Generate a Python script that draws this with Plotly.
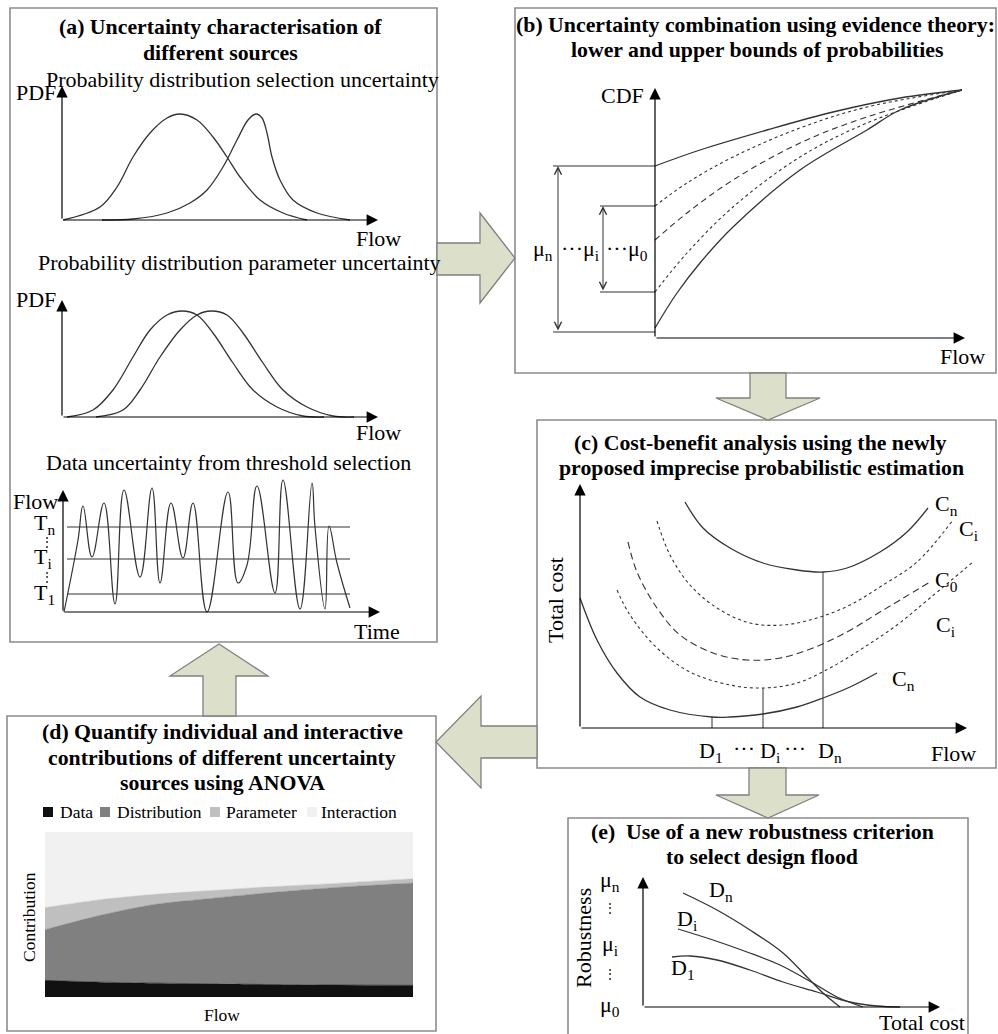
import plotly.graph_objects as go

# ---------------------------------------------------------------------------
# Data (values in each mini-chart's own arbitrary units)
# ---------------------------------------------------------------------------
# (a) distribution selection uncertainty: two candidate PDFs over flow
sel_flow_1 = [1, 38, 55, 71, 88, 105, 118, 135, 151, 165, 178, 198, 221, 245]
sel_pdf_1 = [0, 13, 33, 63, 87, 102, 106, 100, 83, 63, 43, 20, 7, 0]
sel_flow_2 = [40, 71, 105, 128, 145, 161, 175, 186, 194, 200, 205, 210, 218, 231, 255, 288]
sel_pdf_2 = [0, 1, 7, 17, 30, 53, 80, 100, 106, 102, 87, 63, 40, 20, 7, 0]

# (a) distribution parameter uncertainty: same family, shifted parameters
par_flow_1 = [5, 31, 51, 71, 88, 105, 120, 135, 151, 171, 191, 215, 241, 262]
par_pdf_1 = [0, 7, 27, 60, 87, 102, 106, 102, 84, 54, 27, 10, 1, 0]
par_flow_2 = [34, 61, 78, 98, 118, 135, 149, 165, 181, 201, 221, 245, 271, 292]
par_pdf_2 = [0, 7, 27, 60, 87, 102, 106, 102, 84, 54, 27, 10, 1, 0]

# (a) data uncertainty: flow series and candidate thresholds
hydro_time = [1, 15, 20, 29, 41, 52, 61, 77, 89, 97, 108, 120, 130, 144, 165, 175,
              184, 194, 212, 220, 237, 249, 252, 262, 266, 274, 287]
hydro_flow = [0, 72, 106, 55, 109, 8, 122, 35, 124, 29, 109, 54, 109, 0, 120, 29,
              47, 126, 19, 132, 3, 129, 85, 3, 86, 49, 4]
threshold_levels = [85, 53, 18]
threshold_labels = ["T<sub>n</sub>", "T<sub>i</sub>", "T<sub>1</sub>"]
threshold_span = [4, 287]

# (b) CDF bounds from evidence theory
cdf_flow_top = [0, 45, 112, 178, 245, 307]
cdf_top = [172, 188, 208, 226, 240, 248]
cdf_flow_mid = [0, 32, 78, 145, 212, 307]
cdf_upper_dot = [132, 155, 181, 210, 231, 248]
cdf_dash = [98, 125, 158, 195, 221, 248]
cdf_lower_dot = [46, 85, 131, 181, 215, 248]
cdf_flow_bot = [0, 22, 45, 78, 145, 212, 245, 307]
cdf_bot = [10, 45, 75, 111, 168, 208, 228, 248]
mu_n_bounds = [6, 172]
mu_i_bounds = [46, 132]

# (c) total cost curves
cost_flow_up_n = [105, 123, 150, 183, 217, 243, 267, 300, 327, 348]
cost_up_n = [226, 200, 180, 165, 158, 156, 160, 176, 196, 220]
cost_flow_up_i = [77, 90, 110, 137, 170, 203, 237, 270, 303, 337, 373]
cost_up_i = [207, 173, 143, 120, 105, 103, 110, 123, 143, 166, 208]
cost_flow_0 = [48, 57, 77, 100, 133, 167, 200, 233, 267, 300, 350]
cost_0 = [186, 156, 120, 93, 75, 68, 70, 80, 96, 116, 146]
cost_flow_lo_i = [37, 50, 77, 110, 150, 183, 217, 250, 283, 317, 350, 393]
cost_lo_i = [138, 113, 80, 56, 43, 40, 45, 60, 80, 103, 130, 166]
cost_flow_lo_n = [0, 17, 37, 60, 90, 132, 150, 183, 217, 243, 270, 297]
cost_lo_n = [130, 88, 55, 31, 18, 11, 11, 14, 21, 30, 41, 55]
design_flow = [132, 183, 243]
design_cost = [11, 40, 156]

# (d) ANOVA contributions (%)
anova_flow = [0, 1.5, 3, 4.5, 6, 8, 10]
anova_data = [10.1, 9.0, 8.4, 8.0, 7.6, 7.3, 7.1]
anova_distribution = [30.7, 40.5, 47.8, 51.7, 55.4, 59.2, 62.0]
anova_parameter = [13.4, 9.5, 6.0, 4.8, 3.6, 2.5, 2.6]
anova_interaction = [45.8, 41.0, 37.8, 35.5, 33.4, 31.0, 28.3]
anova_names = ["Data", "Distribution", "Parameter", "Interaction"]

# (e) robustness against total cost for candidate design floods
rob_cost_n = [40, 74, 107, 140, 164, 180, 197]
rob_n = [114, 97, 77, 54, 30, 14, 0]
rob_cost_i = [35, 70, 104, 137, 170, 194, 220]
rob_i = [78, 67, 55, 42, 24, 10, 0]
rob_cost_1 = [29, 47, 74, 107, 140, 174, 207, 234, 257]
rob_1 = [50, 51, 47, 37, 25, 15, 5, 1, 0]

# ---------------------------------------------------------------------------
# Styling
# ---------------------------------------------------------------------------
W, H = 998, 1034
SERIF = "Liberation Serif, Times New Roman, serif"
INK = "#000000"
CURVE = "#333333"
FRAME = "#8c8c8c"
ARROW_FILL = "#dcdfca"
ARROW_EDGE = "#808080"
ANOVA_COLORS = ["#111111", "#808080", "#bfbfbf", "#f1f1f1"]
TXT = 22
TITLE = 21.8

fig = go.Figure()


def px(x):
    return x / W


def py(y):
    return 1 - y / H


def sfx(n):
    return "" if n == 1 else str(n)


def panel_axes(n, origin, xr, yr):
    ox, oy = origin
    s = sfx(n)
    fig.update_layout({
        f"xaxis{s}": dict(domain=[px(ox + xr[0]), px(ox + xr[1])], range=list(xr),
                          visible=False, fixedrange=True, anchor=f"y{s}"),
        f"yaxis{s}": dict(domain=[py(oy - yr[0]), py(oy - yr[1])], range=list(yr),
                          visible=False, fixedrange=True, anchor=f"x{s}"),
    })


def axis_arrows(n, xlen, ylen):
    s = sfx(n)
    for x, y in [(xlen, 0), (0, ylen)]:
        fig.add_annotation(x=x, y=y, ax=0, ay=0, xref=f"x{s}", yref=f"y{s}",
                           axref=f"x{s}", ayref=f"y{s}", text="", showarrow=True,
                           arrowhead=2, arrowsize=1.9, arrowwidth=1.2,
                           arrowcolor=INK, standoff=0)


def curve(n, x, y, dash="solid", width=1.3, color=CURVE, shape="spline", smoothing=1.0):
    s = sfx(n)
    line = dict(color=color, width=width, dash=dash, shape=shape)
    if shape == "spline":
        line["smoothing"] = smoothing
    fig.add_trace(go.Scatter(x=x, y=y, mode="lines", line=line, xaxis=f"x{s}",
                             yaxis=f"y{s}", showlegend=False, hoverinfo="skip"))


def label(text, x, y, size=TXT, bold=False, xanchor="center", angle=0):
    if bold:
        text = f"<b>{text}</b>"
    fig.add_annotation(text=text, x=px(x), y=py(y), xref="paper", yref="paper",
                       showarrow=False, xanchor=xanchor, yanchor="middle",
                       textangle=angle, font=dict(family=SERIF, size=size, color=INK))


def frame(x0, y0, x1, y1):
    fig.add_shape(type="rect", xref="paper", yref="paper", x0=px(x0), x1=px(x1),
                  y0=py(y1), y1=py(y0), line=dict(color=FRAME, width=1.6), layer="above")


def block_arrow(points):
    d = "M " + " L ".join(f"{px(x):.5f},{py(y):.5f}" for x, y in points) + " Z"
    fig.add_shape(type="path", path=d, xref="paper", yref="paper", fillcolor=ARROW_FILL,
                  line=dict(color=ARROW_EDGE, width=1.3), layer="above")


# ---------------------------------------------------------------------------
# Panel frames and connecting arrows
# ---------------------------------------------------------------------------
frame(10, 8, 437, 642)      # (a)
frame(515, 8, 996, 373)     # (b)
frame(537, 420, 996, 768)   # (c)
frame(7, 716, 436, 1031)    # (d)
frame(568, 818, 968, 1040)  # (e)

block_arrow([(437, 243), (480, 243), (480, 213), (515, 258), (480, 303), (480, 275), (437, 275)])
block_arrow([(750, 373), (786, 373), (786, 398), (820, 398), (768, 420), (716, 398), (750, 398)])
block_arrow([(749, 768), (786, 768), (786, 795), (819, 795), (768, 818), (716, 795), (749, 795)])
block_arrow([(537, 726), (481, 726), (481, 696), (436, 742), (481, 788), (481, 758), (537, 758)])
block_arrow([(203, 716), (203, 676), (170, 676), (219, 644), (268, 676), (236, 676), (236, 716)])

# ---------------------------------------------------------------------------
# (a) Uncertainty characterisation
# ---------------------------------------------------------------------------
label("(a) Uncertainty characterisation of", 220, 27, size=TITLE, bold=True)
label("different sources", 220, 53, size=TITLE, bold=True)

label("Probability distribution selection uncertainty", 44, 80, xanchor="left")
panel_axes(1, (62, 220), (-2, 320), (-3, 136))
axis_arrows(1, 316, 134)
curve(1, sel_flow_1, sel_pdf_1)
curve(1, sel_flow_2, sel_pdf_2)
label("PDF", 58, 93, xanchor="right")
label("Flow", 378, 238)

label("Probability distribution parameter uncertainty", 36, 262, xanchor="left")
panel_axes(2, (62, 417), (-2, 320), (-3, 119))
axis_arrows(2, 316, 117)
curve(2, par_flow_1, par_pdf_1)
curve(2, par_flow_2, par_pdf_2)
label("PDF", 58, 299, xanchor="right")
label("Flow", 378, 433)

label("Data uncertainty from threshold selection", 44, 462, xanchor="left")
panel_axes(3, (63, 612), (-2, 321), (-6, 136))
axis_arrows(3, 317, 122)
for level in threshold_levels:
    curve(3, threshold_span, [level, level], shape="linear", width=1.2)
curve(3, hydro_time, hydro_flow, smoothing=1.2, width=1.2)
label("Flow", 60, 501, xanchor="right")
label("Time", 377, 631)
for lvl_y, txt in zip([524, 558, 594], threshold_labels):
    label(txt, 32, lvl_y, xanchor="left")
label("\u22ee", 47, 542, size=12)
label("\u22ee", 47, 577, size=12)

# ---------------------------------------------------------------------------
# (b) Evidence theory combination
# ---------------------------------------------------------------------------
label("(b) Uncertainty combination using evidence theory:", 755, 25, size=TITLE, bold=True)
label("lower and upper bounds of probabilities", 757, 50, size=TITLE, bold=True)
panel_axes(4, (655, 338), (-140, 320), (-4, 254))
axis_arrows(4, 310, 250)
curve(4, cdf_flow_top, cdf_top)
curve(4, cdf_flow_mid, cdf_upper_dot, dash="dot", width=1.1)
curve(4, cdf_flow_mid, cdf_dash, dash="6px,4px", width=1.1)
curve(4, cdf_flow_mid, cdf_lower_dot, dash="dot", width=1.1)
curve(4, cdf_flow_bot, cdf_bot)
for bounds, x_start, x_arrow in [(mu_n_bounds, -102, -97), (mu_i_bounds, -55, -52)]:
    for b in bounds:
        curve(4, [x_start, 0], [b, b], shape="linear", width=1.1)
    fig.add_annotation(x=x_arrow, y=bounds[1], ax=x_arrow, ay=bounds[0], xref="x4", yref="y4",
                       axref="x4", ayref="y4", text="", showarrow=True, arrowside="end+start",
                       arrowhead=5, startarrowhead=5, arrowsize=1.4, startarrowsize=1.4,
                       arrowwidth=1.0, arrowcolor=CURVE, standoff=0, startstandoff=0)
label("CDF", 646, 95, xanchor="right")
label("Flow", 962, 356)
label("\u03bc<sub>n</sub>", 543, 250)
label("\u00b7\u00b7\u00b7\u03bc<sub>i</sub>", 580, 250)
label("\u00b7\u00b7\u00b7\u03bc<sub>0</sub>", 627, 250)

# ---------------------------------------------------------------------------
# (c) Cost-benefit analysis
# ---------------------------------------------------------------------------
label("(c) Cost-benefit analysis using the newly", 760, 443, size=TITLE, bold=True)
label("proposed imprecise probabilistic estimation", 761, 468, size=TITLE, bold=True)
panel_axes(5, (580, 728), (-2, 400), (-3, 246))
axis_arrows(5, 387, 244)
curve(5, cost_flow_up_n, cost_up_n)
curve(5, cost_flow_up_i, cost_up_i, dash="dot", width=1.1)
curve(5, cost_flow_0, cost_0, dash="7px,4px", width=1.1)
curve(5, cost_flow_lo_i, cost_lo_i, dash="dot", width=1.1)
curve(5, cost_flow_lo_n, cost_lo_n)
for fx, cy in zip(design_flow, design_cost):
    curve(5, [fx, fx], [0, cy], shape="linear", width=1.0)
label("Total cost", 555, 600, angle=-90)
label("Flow", 953, 753)
label("D<sub>1</sub>", 711, 752)
label("\u00b7\u00b7\u00b7", 744, 748)
label("D<sub>i</sub>", 770, 752)
label("\u00b7\u00b7\u00b7", 795, 748)
label("D<sub>n</sub>", 830, 752)
label("C<sub>n</sub>", 946, 505)
label("C<sub>i</sub>", 968, 530)
label("C<sub>0</sub>", 946, 581)
label("C<sub>i</sub>", 945, 626)
label("C<sub>n</sub>", 903, 680)

# ---------------------------------------------------------------------------
# (d) ANOVA contributions
# ---------------------------------------------------------------------------
label("(d) Quantify individual and interactive", 222, 732, size=TITLE, bold=True)
label("contributions of different uncertainty", 222, 758, size=TITLE, bold=True)
label("sources using ANOVA", 222, 783, size=TITLE, bold=True)
fig.update_layout(
    xaxis6=dict(domain=[px(45), px(413)], range=[0, 10], visible=False, fixedrange=True, anchor="y6"),
    yaxis6=dict(domain=[py(997), py(832)], range=[0, 100], visible=False, fixedrange=True, anchor="x6"),
)
for name, vals, col in zip(anova_names,
                           [anova_data, anova_distribution, anova_parameter, anova_interaction],
                           ANOVA_COLORS):
    fig.add_trace(go.Scatter(x=anova_flow, y=vals, name=name, stackgroup="anova", mode="lines",
                             line=dict(width=0.5, color=col, shape="spline", smoothing=0.8),
                             fillcolor=col, xaxis="x6", yaxis="y6", showlegend=False,
                             hoverinfo="skip"))
for name, col, sq_x, txt_x in zip(anova_names, ANOVA_COLORS, [43, 100, 210, 307], [58, 115, 224, 319]):
    fig.add_shape(type="rect", xref="paper", yref="paper", x0=px(sq_x), x1=px(sq_x + 10),
                  y0=py(817), y1=py(807), fillcolor=col, line=dict(width=0), layer="above")
    label(name, txt_x, 812, size=17.5, xanchor="left")
label("Contribution", 29, 917, size=17.5, angle=-90)
label("Flow", 222, 1015, size=17.5)

# ---------------------------------------------------------------------------
# (e) Robustness criterion
# ---------------------------------------------------------------------------
label("(e)\u00a0 Use of a new robustness criterion", 762, 832, size=TITLE, bold=True)
label("to select design flood", 762, 857, size=TITLE, bold=True)
panel_axes(7, (643, 1007), (-2, 300), (-3, 133))
axis_arrows(7, 297, 130)
curve(7, rob_cost_n, rob_n)
curve(7, rob_cost_i, rob_i)
curve(7, rob_cost_1, rob_1)
label("Robustness", 583, 938, angle=-90)
label("\u03bc<sub>n</sub>", 610, 881)
label("\u22ee", 610, 908, size=12)
label("\u03bc<sub>i</sub>", 610, 945)
label("\u22ee", 610, 974, size=12)
label("\u03bc<sub>0</sub>", 610, 1006)
label("D<sub>n</sub>", 721, 891)
label("D<sub>i</sub>", 687, 920)
label("D<sub>1</sub>", 683, 969)
label("Total cost", 922, 1022)

fig.update_layout(
    width=W, height=H,
    margin=dict(l=0, r=0, t=0, b=0),
    paper_bgcolor="white", plot_bgcolor="rgba(0,0,0,0)",
    showlegend=False,
    font=dict(family=SERIF, color=INK),
)

fig.write_html("out.html")
